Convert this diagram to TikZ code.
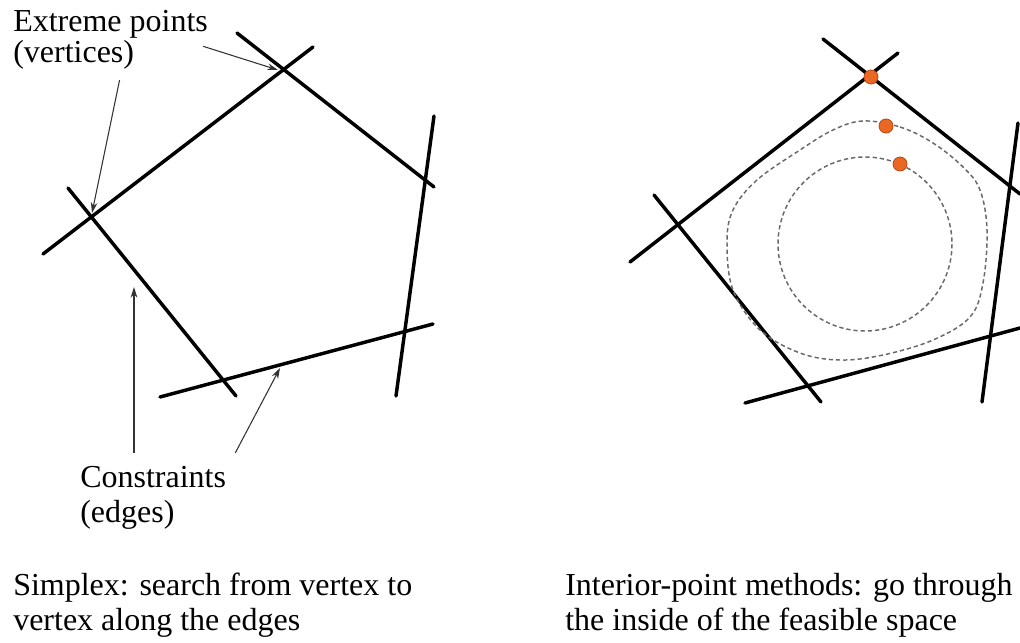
\documentclass[tikz,border=0pt]{standalone}
\usepackage{fontspec}
\setmainfont{Liberation Serif}
\usetikzlibrary{arrows.meta,calc}
\definecolor{dotorange}{RGB}{234,104,36}
\definecolor{dotedge}{RGB}{185,70,20}
\definecolor{pathgray}{RGB}{105,105,105}

\begin{document}
\begin{tikzpicture}[x=0.75pt,y=-0.75pt,
   constraint/.style={line width=2.6pt,line cap=round},
   pointer/.style={-{Stealth[length=8pt,width=5pt]},line width=0.8pt,black!80},
   txt/.style={anchor=base west,inner sep=0pt,align=left,
               font=\fontsize{24}{23.25}\selectfont},
   caption/.style={txt,font=\fontsize{24}{26}\selectfont},
   ippath/.style={pathgray,line width=1.1pt,dash pattern=on 3.2pt off 2.2pt},
   ipdot/.style={circle,fill=dotorange,draw=dotedge,line width=0.6pt,
                 minimum size=10.5pt,inner sep=0pt}]
  \useasboundingbox (0,0) rectangle (1020,642);

  % simplex: the five constraints
  \draw[constraint] (43,254) -- (313,47);
  \draw[constraint] (237,33) -- (434,187);
  \draw[constraint] (434,116) -- (396,396);
  \draw[constraint] (160,397) -- (433,324);
  \draw[constraint] (68,188) -- (236,396);
  \coordinate (vtop) at (278,70);
  \coordinate (vleft) at (92,213);
  \coordinate (eleft) at (134,287);
  \coordinate (ebottom) at (280,368);

  % base anchor sits on the last line
  \node[txt] (ext) at (13,63) {Extreme points\\(vertices)};
  \node[caption] (con) at (80,522) {Constraints\\(edges)};
  \draw[pointer] ($(ext.south)+(9,10)$) -- (vleft);
  \draw[pointer] ($(ext.east)+(-5,6)$) -- (vtop);
  \draw[pointer] ($(con.north west)+(54,-13)$) -- (eleft);
  \draw[pointer] ($(con.north east)+(9,-13)$) -- (ebottom);

  % interior point: the same five constraints
  \draw[constraint] (630,262) -- (898,53);
  \draw[constraint] (823,39) -- (1020,194);
  \draw[constraint] (1018,123) -- (982,402);
  \draw[constraint] (745,403) -- (1020,328);
  \draw[constraint] (654,195) -- (821,402);

  \draw[ippath] plot[smooth cycle,tension=0.6] coordinates {
    (863,121) (900,127) (933,143) (963,167) (980,190) (987,230)
    (983,283) (970,317) (933,340) (883,355) (840,360) (800,353)
    (760,330) (733,290) (727,243) (733,210) (757,180) (800,150) (833,130)};
  \draw[ippath] (865,244) circle[radius=87];

  \node[ipdot] (p1) at (871,77) {};
  \node[ipdot] (p2) at (886,126) {};
  \node[ipdot] (p3) at (900,164) {};

  \node[caption] (simplex) at (13,630)
       {Simplex: search from vertex to\\vertex along the edges};
  \node[caption] (interior) at (565,630)
       {Interior-point methods: go through\\the inside of the feasible space};
\end{tikzpicture}
\end{document}
